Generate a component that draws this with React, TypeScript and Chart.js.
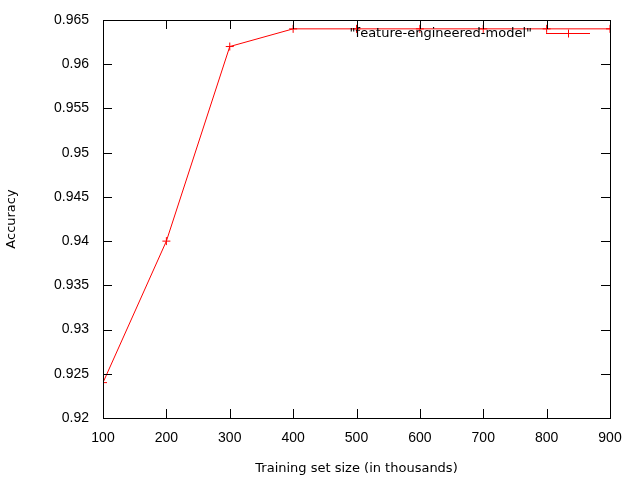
import React, { useEffect, useRef } from "react";
import { Chart, registerables } from "chart.js";
Chart.register(...registerables);

const xValues = [100, 200, 300, 400, 500, 600, 700, 800, 900];
const accuracy = [0.924, 0.94, 0.962, 0.964, 0.964, 0.964, 0.964, 0.964, 0.964];
const seriesLabel = '"feature-engineered-model"';

const frame = {
  id: "frame",
  afterDraw(chart: any) {
    const { ctx, chartArea: a, scales } = chart;
    ctx.save();
    ctx.strokeStyle = "#000";
    ctx.lineWidth = 1;
    ctx.strokeRect(Math.round(a.left) + 0.5, Math.round(a.top) + 0.5, Math.round(a.right - a.left), Math.round(a.bottom - a.top));
    const L = 9;
    ctx.beginPath();
    scales.x.ticks.forEach((t: any) => {
      const px = Math.round(scales.x.getPixelForValue(t.value)) + 0.5;
      ctx.moveTo(px, a.bottom); ctx.lineTo(px, a.bottom - L);
      ctx.moveTo(px, a.top); ctx.lineTo(px, a.top + L);
    });
    scales.y.ticks.forEach((t: any) => {
      const py = Math.round(scales.y.getPixelForValue(t.value)) + 0.5;
      ctx.moveTo(a.left, py); ctx.lineTo(a.left + L, py);
      ctx.moveTo(a.right, py); ctx.lineTo(a.right - L, py);
    });
    ctx.stroke();
    // legend
    const ly = Math.round(a.top + 13) + 0.5;
    ctx.fillStyle = "#000";
    ctx.font = "13px 'DejaVu Sans', sans-serif";
    ctx.textAlign = "right";
    ctx.textBaseline = "middle";
    ctx.fillText(seriesLabel, a.right - 78, ly);
    ctx.beginPath();
    ctx.strokeStyle = "#ff0000";
    ctx.moveTo(a.right - 64, ly); ctx.lineTo(a.right - 20, ly);
    const cx = Math.round(a.right - 42) + 0.5;
    ctx.moveTo(cx - 4, ly); ctx.lineTo(cx + 4, ly);
    ctx.moveTo(cx, ly - 4); ctx.lineTo(cx, ly + 4);
    ctx.stroke();
    ctx.restore();
  },
};

export default function App() {
  const ref = useRef<HTMLCanvasElement>(null);
  useEffect(() => {
    document.body.style.margin = "0";
    const font = { family: "'Liberation Sans', Arial, sans-serif", size: 14 };
    const tfont = { family: "'DejaVu Sans', sans-serif", size: 13 };
    const chart = new Chart(ref.current!, {
      type: "line",
      data: {
        datasets: [{
          label: seriesLabel,
          data: xValues.map((x, i) => ({ x, y: accuracy[i] })),
          borderColor: "#ff0000",
          backgroundColor: "#ff0000",
          borderWidth: 1,
          pointStyle: "cross",
          pointRadius: 4,
          pointBorderWidth: 1,
          tension: 0,
        }],
      },
      options: {
        animation: false,
        responsive: false,
        layout: { padding: { top: 20, right: 30 } },
        plugins: { legend: { display: false }, tooltip: { enabled: false } },
        scales: {
          x: {
            type: "linear", min: 100, max: 900,
            ticks: { stepSize: 100, color: "#000", font, padding: 4 },
            grid: { display: false }, border: { display: false },
            title: { display: true, text: "Training set size (in thousands)", color: "#000", font: tfont },
            afterFit: (s: any) => { s.height = 62; },
          },
          y: {
            min: 0.92, max: 0.965,
            ticks: { stepSize: 0.005, color: "#000", font, padding: 6,
              callback: (v: any) => String(Math.round(Number(v) * 1000) / 1000) },
            grid: { display: false }, border: { display: false },
            title: { display: true, text: "Accuracy", color: "#000", font: tfont, padding: { top: 4, bottom: 4 } },
            afterFit: (s: any) => { s.width = 103; },
          },
        },
      },
      plugins: [frame],
    });
    return () => chart.destroy();
  }, []);
  return <canvas ref={ref} width={640} height={480} />;
}
